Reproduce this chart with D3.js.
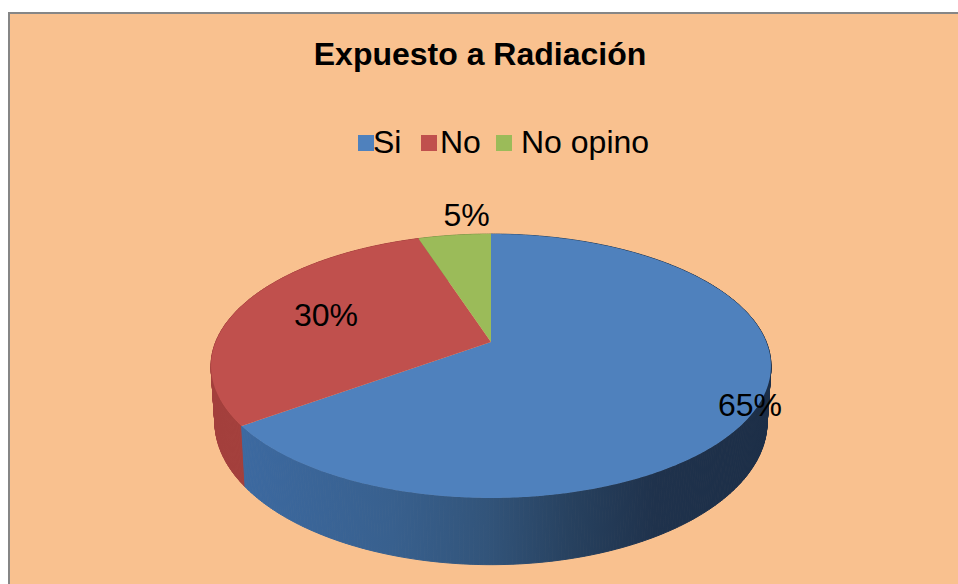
<!DOCTYPE html>
<html>
<head>
<meta charset="utf-8">
<script src="https://cdn.jsdelivr.net/npm/d3@7"></script>
<style>
  html, body { margin: 0; padding: 0; background: #fff; overflow: hidden; }
  text { font-family: "Liberation Sans", Arial, sans-serif; fill: #000; }
</style>
</head>
<body>
<div id="chart"></div>
<script>
const title = "Expuesto a Radiación";
const categories = ["Si", "No", "No opino"];
const values = [65, 30, 5];
const labels = ["65%", "30%", "5%"];
const colors = ["#4f81bd", "#c0504d", "#9bbb59"];

const width = 958, height = 584;
const fontSize = 32;

const svg = d3.select("#chart").append("svg")
    .attr("width", width)
    .attr("height", height)
    .attr("viewBox", `0 0 ${width} ${height}`)
    .style("display", "block");

svg.append("rect")
    .attr("x", 9).attr("y", 13)
    .attr("width", width + 20).attr("height", height + 20)
    .attr("fill", "#f9c18f")
    .attr("stroke", "#868686")
    .attr("stroke-width", 2);

svg.append("text")
    .attr("x", 480).attr("y", 65)
    .attr("text-anchor", "middle")
    .attr("font-size", fontSize)
    .attr("font-weight", "bold")
    .text(title);

// legend
const legendX = [358, 421, 496];
const legendTextX = [15, 19, 25];
const legend = svg.append("g").selectAll("g")
    .data(categories)
    .join("g")
    .attr("transform", (d, i) => `translate(${legendX[i]},135)`);
legend.append("rect")
    .attr("width", 16).attr("height", 16)
    .attr("fill", (d, i) => colors[i]);
legend.append("text")
    .attr("x", (d, i) => legendTextX[i])
    .attr("y", 18)
    .attr("font-size", fontSize)
    .text(d => d);

// tilted disc: perspective projection of the unit circle
const cx = 491, cy = 342;
const persp = -0.1818;
const topDisc = { k: 275.3, a: 127.6, y0: 0 };
const baseDisc = { k: 271.5, a: 138, y0: 54 };

function project(disc, angle) {
    const u = Math.sin(angle), v = -Math.cos(angle);
    const w = 1 + persp * v;
    return [cx + disc.k * u / w, cy + disc.y0 + disc.a * v / w];
}

const pie = d3.pie().sort(null).startAngle(0).endAngle(2 * Math.PI);
const arcs = pie(values);

function rim(disc, d) {
    const n = Math.ceil((d.endAngle - d.startAngle) / 0.01);
    return d3.range(n + 1).map(j =>
        project(disc, d.startAngle + (d.endAngle - d.startAngle) * j / n));
}

// side wall shading runs left to right across the pie
const defs = svg.append("defs");
const sideStops = [
    [[0, "#3c69a0"], [0.28, "#38608e"], [0.46, "#32547a"], [0.62, "#27415f"], [0.78, "#1f324c"], [1, "#1c2e47"]],
    [[0, "#a33f3c"], [1, "#a33f3c"]],
    [[0, "#7a8f45"], [1, "#7a8f45"]]
];
sideStops.forEach((stops, i) => {
    defs.append("linearGradient")
        .attr("id", `side${i}`)
        .attr("gradientUnits", "userSpaceOnUse")
        .attr("x1", 245).attr("x2", 770)
        .attr("y1", 0).attr("y2", 0)
        .selectAll("stop")
        .data(stops)
        .join("stop")
        .attr("offset", s => s[0])
        .attr("stop-color", s => s[1]);
});

const line = d3.line();

// the wall is a run of quads between the two rims; blue goes last so it sits over red at the seam
const walls = svg.append("g");
[2, 1, 0].forEach(i => {
    const top = rim(topDisc, arcs[i]);
    const base = rim(baseDisc, arcs[i]);
    walls.append("g").selectAll("path")
        .data(d3.range(top.length - 1))
        .join("path")
        .attr("d", j => line([top[j], top[j + 1], base[j + 1], base[j]]) + "Z")
        .attr("fill", `url(#side${i})`)
        .attr("stroke", `url(#side${i})`)
        .attr("stroke-width", 1);
});

// top face
svg.append("g").selectAll("path")
    .data(arcs)
    .join("path")
    .attr("d", d => line([[cx, cy], ...rim(topDisc, d)]) + "Z")
    .attr("fill", (d, i) => colors[i]);

// data labels
const labelPos = [[750, 416], [326, 326], [466.5, 226]];
svg.append("g").selectAll("text")
    .data(labels)
    .join("text")
    .attr("x", (d, i) => labelPos[i][0])
    .attr("y", (d, i) => labelPos[i][1])
    .attr("text-anchor", "middle")
    .attr("font-size", fontSize)
    .text(d => d);
</script>
</body>
</html>
